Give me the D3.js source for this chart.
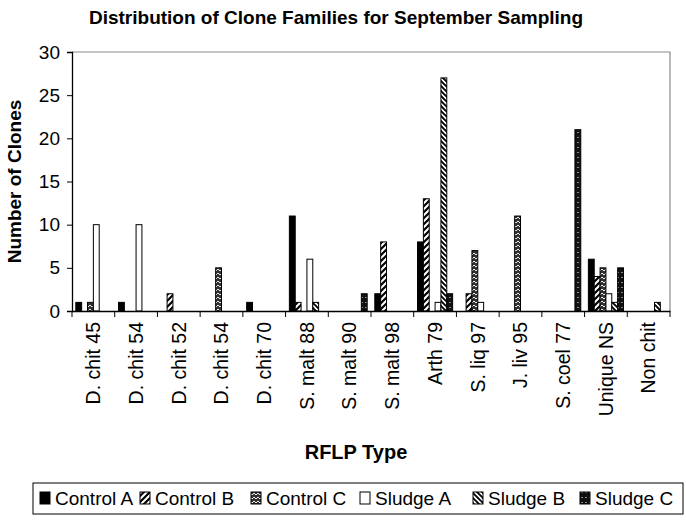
<!DOCTYPE html>
<html><head><meta charset="utf-8">
<script src="https://cdn.jsdelivr.net/npm/d3@7"></script>
<style>
html,body{margin:0;padding:0;background:#fff;}
svg{display:block;font-family:"Liberation Sans",Arial,sans-serif;}
</style></head>
<body>
<svg id="chart" width="686" height="521"></svg>
<script>
const categories = ["D. chit 45","D. chit 54","D. chit 52","D. chit 54","D. chit 70","S. malt 88","S. malt 90","S. malt 98","Arth 79","S. liq 97","J. liv 95","S. coel 77","Unique NS","Non chit"];
const seriesNames = ["Control A","Control B","Control C","Sludge A","Sludge B","Sludge C"];
const controlA = [1,1,0,0,1,11,0,2,8,0,0,0,6,0];
const controlB = [0,0,2,0,0,1,0,8,13,2,0,0,4,0];
const controlC = [1,0,0,5,0,0,0,0,0,7,11,0,5,0];
const sludgeA  = [10,10,0,0,0,6,0,0,1,1,0,0,2,0];
const sludgeB  = [0,0,0,0,0,1,0,0,27,0,0,0,1,1];
const sludgeC  = [0,0,0,0,0,0,2,0,2,0,0,21,5,0];
const yTicks = [0,5,10,15,20,25,30];

const seriesValues = [controlA,controlB,controlC,sludgeA,sludgeB,sludgeC];
const fills = ["#000","url(#pCB)","url(#pCC)","#fff","url(#pSB)","url(#pSC)"];

const svg = d3.select("#chart");
const defs = svg.append("defs");
// Control B: forward diagonal stripes
let p = defs.append("pattern").attr("id","pCB").attr("patternUnits","userSpaceOnUse")
  .attr("width",6).attr("height",6);
p.append("rect").attr("width",6).attr("height",6).attr("fill","#fff");
p.append("path").attr("d","M-1,7 L7,-1 M-1,1 L1,-1 M5,7 L7,5").attr("stroke","#000").attr("stroke-width",2.2);
// Sludge B: backward diagonal stripes
p = defs.append("pattern").attr("id","pSB").attr("patternUnits","userSpaceOnUse")
  .attr("width",5).attr("height",5);
p.append("rect").attr("width",5).attr("height",5).attr("fill","#fff");
p.append("path").attr("d","M-1,-1 L6,6 M-1,4 L1,6 M4,-1 L6,1").attr("stroke","#000").attr("stroke-width",1.9);
// Control C: zigzag on dark
p = defs.append("pattern").attr("id","pCC").attr("patternUnits","userSpaceOnUse")
  .attr("width",4).attr("height",4);
p.append("rect").attr("width",4).attr("height",4).attr("fill","#333");
p.append("path").attr("d","M0,3 L2,1 L4,3").attr("stroke","#fff").attr("stroke-width",0.9).attr("fill","none");
// Sludge C: dark with white dots
p = defs.append("pattern").attr("id","pSC").attr("patternUnits","userSpaceOnUse")
  .attr("width",4).attr("height",5);
p.append("rect").attr("width",4).attr("height",5).attr("fill","#111");
p.append("rect").attr("x",1.5).attr("y",2).attr("width",1).attr("height",1).attr("fill","#fff");

const pLeft = 72, pRight = 670, pTop = 52, pBottom = 311;

const x0 = d3.scaleBand().domain(d3.range(categories.length)).range([pLeft,pRight]).padding(0);
const x1 = d3.scaleBand().domain(d3.range(seriesNames.length)).range([0,x0.bandwidth()])
  .paddingInner(0).paddingOuter(0.65);
const y = d3.scaleLinear().domain([0,30]).range([pBottom,pTop]);

// plot area border (top and right)
svg.append("path").attr("d",`M${pLeft},${pTop}H${pRight}V${pBottom}`)
  .attr("fill","none").attr("stroke","#8a8a8a").attr("stroke-width",1.2);

// bars
seriesValues.forEach((vals,si)=>{
  svg.append("g").selectAll("rect")
    .data(vals.map((v,i)=>({v,i})).filter(d=>d.v>0))
    .join("rect")
    .attr("x",d=>x0(d.i)+x1(si))
    .attr("y",d=>y(d.v))
    .attr("width",x1.bandwidth())
    .attr("height",d=>y(0)-y(d.v))
    .attr("fill",fills[si])
    .attr("stroke","#000").attr("stroke-width",1);
});

// y axis
const yAxis = svg.append("g").attr("transform",`translate(${pLeft},0)`)
  .call(d3.axisLeft(y).tickValues(yTicks).tickSize(5).tickPadding(7));
yAxis.select(".domain").attr("stroke","#000").attr("stroke-width",1.3);
yAxis.selectAll("line").attr("stroke","#000");
yAxis.selectAll("text").attr("font-size",19).attr("fill","#000")
  .attr("font-family","'Liberation Sans',Arial,sans-serif");

// x axis
const xAxis = svg.append("g").attr("transform",`translate(0,${pBottom})`)
  .call(d3.axisBottom(x0).tickFormat(i=>categories[i]).tickSize(0).tickPadding(0));
xAxis.select(".domain").attr("stroke","#000").attr("stroke-width",1.3);
xAxis.selectAll("text")
  .attr("font-size",19.5).attr("fill","#000")
  .attr("font-family","'Liberation Sans',Arial,sans-serif")
  .attr("text-anchor","end").attr("dy","0.35em")
  .attr("transform","translate(0,11) rotate(-90)")
  .attr("x",0).attr("y",0);
// boundary ticks
svg.append("g").selectAll("line")
  .data(d3.range(categories.length+1))
  .join("line")
  .attr("x1",i=>pLeft+i*x0.step()).attr("x2",i=>pLeft+i*x0.step())
  .attr("y1",pBottom).attr("y2",pBottom+6)
  .attr("stroke","#000").attr("stroke-width",1);

// titles
svg.append("text").attr("x",336).attr("y",24).attr("text-anchor","middle")
  .attr("font-size",19).attr("font-weight","bold")
  .text("Distribution of Clone Families for September Sampling");
svg.append("text").attr("transform",`translate(21,${(pTop+pBottom)/2}) rotate(-90)`)
  .attr("text-anchor","middle").attr("font-size",19).attr("font-weight","bold")
  .text("Number of Clones");
svg.append("text").attr("x",356).attr("y",459).attr("text-anchor","middle")
  .attr("font-size",20).attr("font-weight","bold").text("RFLP Type");

// legend
const lg = svg.append("g");
lg.append("rect").attr("x",33).attr("y",483).attr("width",650).attr("height",31)
  .attr("fill","#fff").attr("stroke","#000").attr("stroke-width",1);
const legX = [40,140,251,360,473,580];
seriesNames.forEach((n,i)=>{
  lg.append("rect").attr("x",legX[i]).attr("y",492).attr("width",10).attr("height",12)
    .attr("fill",fills[i]).attr("stroke","#000").attr("stroke-width",1);
  lg.append("text").attr("x",legX[i]+15).attr("y",505).attr("font-size",19).text(n);
});
</script>
</body></html>
